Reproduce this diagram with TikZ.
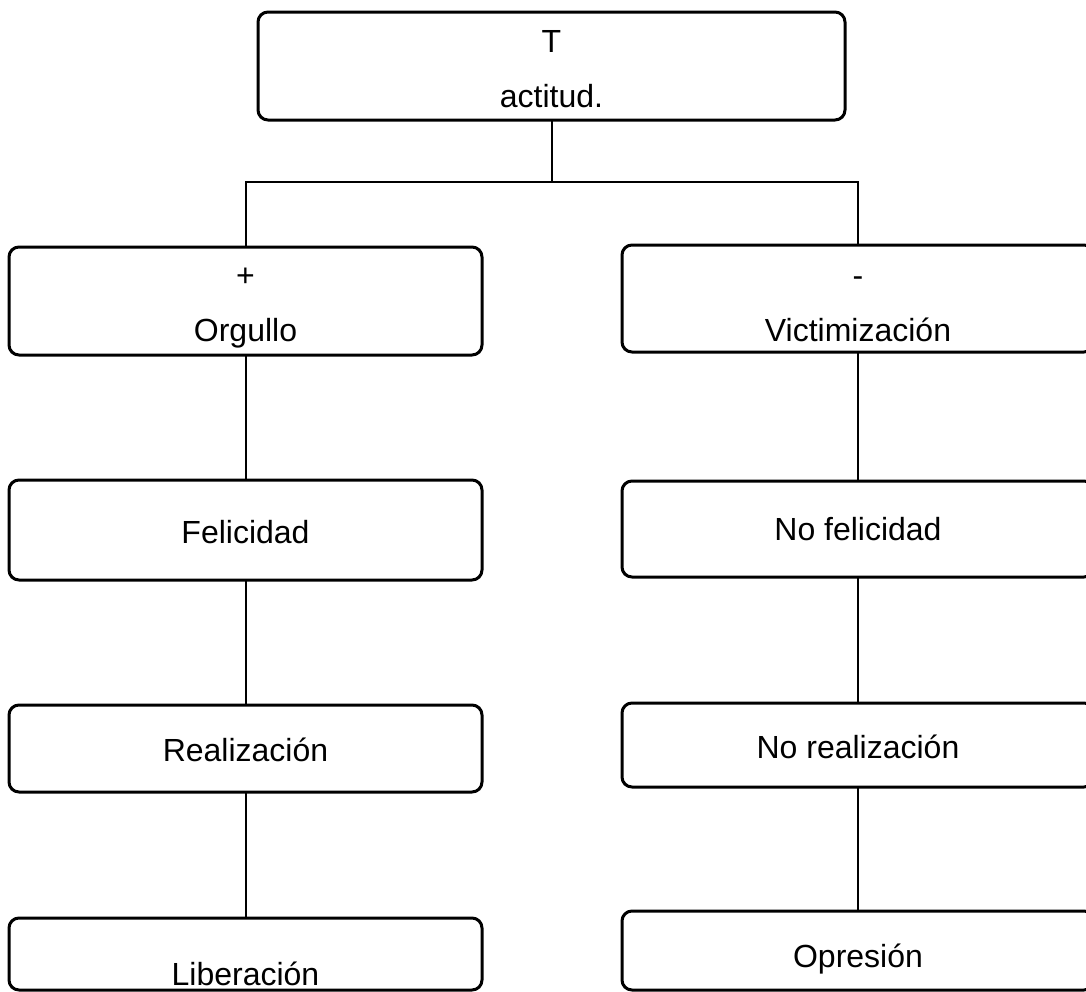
\documentclass[tikz,border=0pt]{standalone}
\usepackage{fontspec}
\setmainfont{Liberation Sans}
\begin{document}
\begin{tikzpicture}[x=0.75pt,y=-0.75pt,
  box/.style={draw=black,line width=2.25pt,rounded corners=7.5pt,
    inner sep=0pt,outer sep=0pt,fill=white},
  link/.style={draw=black,line width=1.5pt},
  lbl/.style={anchor=base,inner sep=0pt,font=\fontsize{24}{28}\selectfont}]
  \useasboundingbox (0,0) rectangle (1086,992);
  \clip (0,0) rectangle (1086,992);
  \fill[white] (0,0) rectangle (1086,992);

  % root
  \node[box,minimum width=587*0.75pt,minimum height=108*0.75pt] (root) at (551.5,66) {};
  % left column
  \node[box,minimum width=473*0.75pt,minimum height=108*0.75pt] (org) at (245.5,301) {};
  \node[box,minimum width=473*0.75pt,minimum height=100*0.75pt] (fel) at (245.5,530) {};
  \node[box,minimum width=473*0.75pt,minimum height=87*0.75pt]  (rea) at (245.5,748.5) {};
  \node[box,minimum width=473*0.75pt,minimum height=72*0.75pt]  (lib) at (245.5,954) {};
  % right column
  \node[box,minimum width=472*0.75pt,minimum height=107*0.75pt] (vic) at (858,298.5) {};
  \node[box,minimum width=472*0.75pt,minimum height=96*0.75pt]  (nfe) at (858,529) {};
  \node[box,minimum width=472*0.75pt,minimum height=84*0.75pt]  (nre) at (858,745) {};
  \node[box,minimum width=472*0.75pt,minimum height=79*0.75pt]  (opr) at (858,950.5) {};

  % labels
  \node[lbl] (rootA) at (551.5,52) {T};
  \node[lbl] (rootB) at (551.5,107) {actitud.};
  \node[lbl] (orgA) at (245.5,286) {+};
  \node[lbl] (orgB) at (245.5,341) {Orgullo};
  \node[lbl] (felT) at (245.5,543) {Felicidad};
  \node[lbl] (reaT) at (245.5,761) {Realización};
  \node[lbl] (libT) at (245.5,985) {Liberación};
  \node[lbl] (vicA) at (858,286) {-};
  \node[lbl] (vicB) at (858,341) {Victimización};
  \node[lbl] (nfeT) at (858,540) {No felicidad};
  \node[lbl] (nreT) at (858,758) {No realización};
  \node[lbl] (oprT) at (858,967) {Opresión};

  % connectors
  \coordinate (fork) at (551.5,182);
  \draw[link] (root.south) -- (fork);
  \draw[link] (org.north) |- (fork) -| (vic.north);
  \draw[link] (org.south) -- (fel.north);
  \draw[link] (fel.south) -- (rea.north);
  \draw[link] (rea.south) -- (lib.north);
  \draw[link] (vic.south) -- (nfe.north);
  \draw[link] (nfe.south) -- (nre.north);
  \draw[link] (nre.south) -- (opr.north);
\end{tikzpicture}
\end{document}
